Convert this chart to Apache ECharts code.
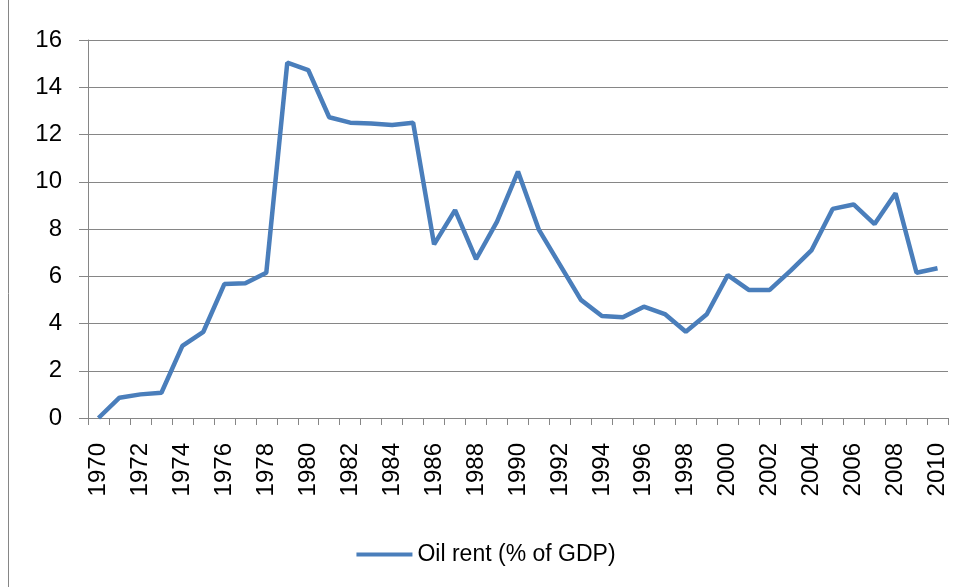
<!DOCTYPE html>
<html>
<head>
<meta charset="utf-8">
<script src="https://cdn.jsdelivr.net/npm/echarts@6/dist/echarts.min.js"></script>
<style>
  html, body { margin: 0; padding: 0; background: #fff; }
  #chart { width: 972px; height: 587px; }
</style>
</head>
<body>
<div id="chart"></div>
<script>
// years 1970..2010
var years = [];
for (var y = 1970; y <= 2010; y++) years.push(String(y));
// oil rent, % of GDP
var oilRent = [0.0, 0.86, 1.0, 1.07, 3.05, 3.65, 5.67, 5.7, 6.15, 15.04,
  14.73, 12.73, 12.5, 12.47, 12.4, 12.5, 7.35, 8.8, 6.72, 8.31,
  10.43, 7.96, 6.48, 5.0, 4.32, 4.26, 4.71, 4.4, 3.65, 4.39,
  6.05, 5.42, 5.42, 6.24, 7.11, 8.85, 9.04, 8.21, 9.51, 6.15, 6.34];
var seriesName = 'Oil rent (% of GDP)';
var font = '"Liberation Sans", sans-serif';

var myChart = echarts.init(document.getElementById('chart'));
var option = {
  animation: false,
  backgroundColor: '#fff',
  graphic: [{
    type: 'rect',
    shape: { x: 8.5, y: -5, width: 1000, height: 1000 },
    style: { fill: 'none', stroke: '#868686', lineWidth: 1 }
  }],
  grid: { left: 88, right: 24, top: 40, bottom: 169 },
  legend: {
    top: 538,
    left: 'center',
    icon: 'rect',
    itemWidth: 56,
    itemHeight: 4,
    itemGap: 2,
    textStyle: { fontFamily: font, fontSize: 23, color: '#000' },
    data: [seriesName]
  },
  xAxis: {
    type: 'category',
    data: years,
    boundaryGap: true,
    axisLine: { lineStyle: { color: '#868686', width: 1 } },
    axisTick: { show: true, interval: 0, length: 7, lineStyle: { color: '#868686' } },
    axisLabel: {
      interval: 1,
      rotate: 90,
      margin: 25,
      fontFamily: font,
      fontSize: 24,
      color: '#000'
    },
    splitLine: { show: false }
  },
  yAxis: {
    type: 'value',
    min: 0,
    max: 16,
    interval: 2,
    axisLine: { show: true, lineStyle: { color: '#868686', width: 1 } },
    axisTick: { show: true, length: 9, lineStyle: { color: '#868686' } },
    axisLabel: { margin: 26, fontFamily: font, fontSize: 24, color: '#000' },
    splitLine: { lineStyle: { color: '#868686', width: 1 } }
  },
  series: [{
    name: seriesName,
    type: 'line',
    data: oilRent,
    symbol: 'none',
    lineStyle: { color: '#4a7ebb', width: 4.5 },
    itemStyle: { color: '#4a7ebb' }
  }]
};
myChart.setOption(option);
</script>
</body>
</html>
